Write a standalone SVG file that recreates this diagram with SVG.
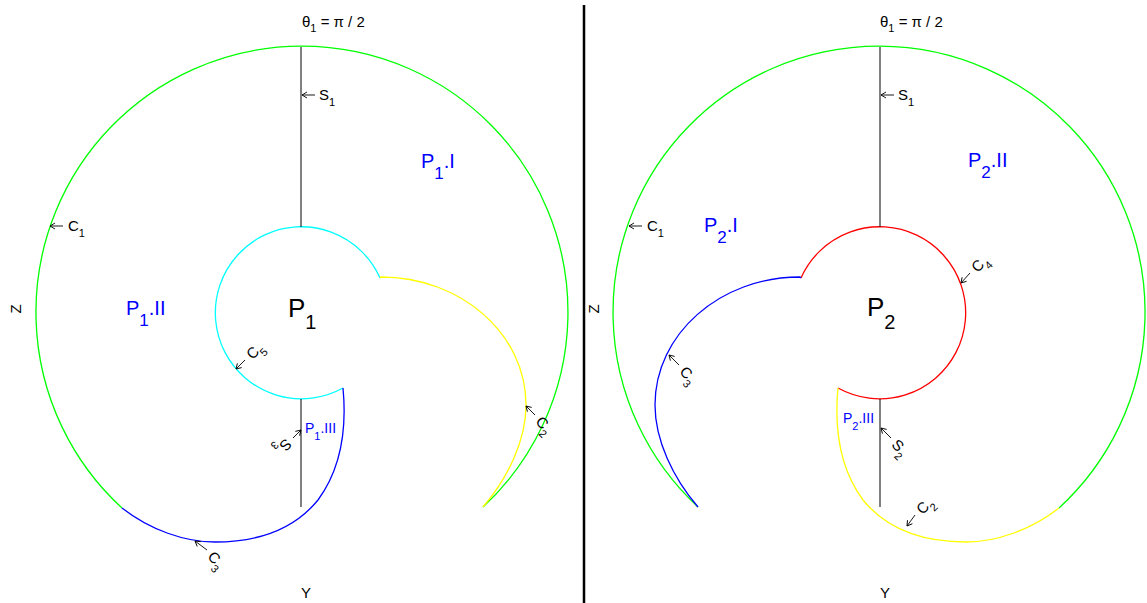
<svg xmlns="http://www.w3.org/2000/svg" width="1147" height="603" viewBox="0 0 1147 603">
<style>
text{font-family:"Liberation Sans",Arial,sans-serif;fill:#000}
.lbl{font-size:15px}
.sub{font-size:11px}
.big{font-size:26px}
.bigsub{font-size:20px}
.reg{fill:#0000ff;font-size:20px}
.regsub{font-size:17px}
.sreg{fill:#0000ff;font-size:14px}
.ssub{font-size:11px}
.c{fill:none;stroke-width:1.3}
.ax{stroke:#000;stroke-width:1;fill:none}
.arr{stroke:#000;stroke-width:0.9;fill:none;marker-end:url(#ah)}
</style>
<defs>
<marker id="ah" markerUnits="userSpaceOnUse" markerWidth="10" markerHeight="10" viewBox="-7 -5 10 10" refX="0" refY="0" orient="auto">
<path d="M-5,-3 L0,0 L-5,3" fill="none" stroke="#000" stroke-width="0.9"/>
</marker>
</defs>
<g id="connectors">
<line x1="584" y1="5" x2="584" y2="603" stroke="#000" stroke-width="2.5"/>
<!-- left panel -->
<path class="c" stroke="#00ff00" d="M483,507 A266,266 0 1 0 122,508"/>
<path class="c" stroke="#00ffff" d="M380,278 A86,86 0 1 0 343,388"/>
<path class="c" stroke="#ffff00" d="M380,278 L381,277 C461,277 526,334 526,405 C526,440 508,478 483,507"/>
<path class="c" stroke="#0000ff" d="M343,388 C347,430 340,470 318,500 C296,527 262,542 215,542 C185,542 150,530 122,508"/>
<line class="ax" x1="301" y1="47" x2="301" y2="227"/>
<line class="ax" x1="301" y1="399" x2="301" y2="507"/>
<!-- right panel -->
<path class="c" stroke="#00ff00" d="M698,507 A266,266 0 1 1 1059,508"/>
<path class="c" stroke="#ff0000" d="M801,278 A86,86 0 1 1 838,388"/>
<path class="c" stroke="#0000ff" d="M801,278 L800,277 C720,277 655,334 655,405 C655,440 673,478 698,507"/>
<path class="c" stroke="#ffff00" d="M838,388 C834,430 841,470 863,500 C885,527 919,542 966,542 C996,542 1031,530 1059,508"/>
<line class="ax" x1="880" y1="47" x2="880" y2="227"/>
<line class="ax" x1="880" y1="399" x2="880" y2="507"/>
<!-- arrows -->
<line class="arr" x1="315" y1="95" x2="302" y2="95"/>
<line class="arr" x1="63" y1="226" x2="50" y2="226"/>
<line class="arr" x1="245" y1="360" x2="236" y2="369"/>
<line class="arr" x1="293" y1="438" x2="301" y2="430"/>
<line class="arr" x1="207" y1="550" x2="195" y2="541"/>
<line class="arr" x1="535" y1="415" x2="526" y2="406"/>
<line class="arr" x1="894" y1="95" x2="881" y2="95"/>
<line class="arr" x1="642" y1="226" x2="629" y2="226"/>
<line class="arr" x1="970" y1="273" x2="961" y2="283"/>
<line class="arr" x1="679" y1="365" x2="669" y2="355"/>
<line class="arr" x1="891" y1="438" x2="881" y2="428"/>
<line class="arr" x1="915" y1="515" x2="907" y2="526"/>
</g>
<g id="left-panel-labels">
<text id="theta1" class="lbl" font-size="14" x="302" y="27">θ<tspan class="sub" font-size="10" dy="5">1</tspan><tspan dy="-5"> = π / 2</tspan></text>
<text id="Y1" class="lbl" x="306" y="598" text-anchor="middle">Y</text>
<text id="Z1" class="lbl" transform="translate(21,309) rotate(-90)" text-anchor="middle">Z</text>
<text id="S1a" class="lbl" x="319" y="100">S<tspan class="sub" dy="6">1</tspan></text>
<text id="C1a" class="lbl" x="68" y="231">C<tspan class="sub" dy="6">1</tspan></text>
<text id="C5" class="lbl" transform="translate(245,360) rotate(-45)" x="5" y="5.5">C<tspan class="sub" dy="6">5</tspan></text>
<text id="S3" class="lbl" transform="translate(293,438) rotate(135)" x="5" y="5.5">S<tspan class="sub" dy="6">3</tspan></text>
<text id="C3a" class="lbl" transform="translate(207,550) rotate(45)" x="5" y="5.5">C<tspan class="sub" dy="6">3</tspan></text>
<text id="C2a" class="lbl" transform="translate(535,415) rotate(45)" x="5" y="5.5">C<tspan class="sub" dy="6">2</tspan></text>
</g>
<g id="P1"><text class="big" x="288" y="317">P<tspan class="bigsub" dy="12">1</tspan></text></g>
<g id="P1.I"><text class="reg" x="421" y="168">P<tspan class="regsub" dy="11">1</tspan><tspan dy="-11">.I</tspan></text></g>
<g id="P1.II"><text class="reg" x="126" y="315">P<tspan class="regsub" dy="11">1</tspan><tspan dy="-11">.II</tspan></text></g>
<g id="P1.III"><text class="sreg" x="305" y="433">P<tspan class="ssub" dy="7">1</tspan><tspan dy="-7">.III</tspan></text></g>
<g id="right-panel-labels">
<text id="theta2" class="lbl" font-size="14" x="880" y="27">θ<tspan class="sub" font-size="10" dy="5">1</tspan><tspan dy="-5"> = π / 2</tspan></text>
<text id="Y2" class="lbl" x="885" y="598" text-anchor="middle">Y</text>
<text id="Z2" class="lbl" transform="translate(599,309) rotate(-90)" text-anchor="middle">Z</text>
<text id="S1b" class="lbl" x="898" y="100">S<tspan class="sub" dy="6">1</tspan></text>
<text id="C1b" class="lbl" x="647" y="231">C<tspan class="sub" dy="6">1</tspan></text>
<text id="C4" class="lbl" transform="translate(970,273) rotate(-45)" x="5" y="5.5">C<tspan class="sub" dy="6">4</tspan></text>
<text id="C3b" class="lbl" transform="translate(679,365) rotate(45)" x="5" y="5.5">C<tspan class="sub" dy="6">3</tspan></text>
<text id="S2" class="lbl" transform="translate(891,438) rotate(45)" x="5" y="5.5">S<tspan class="sub" dy="6">2</tspan></text>
<text id="C2b" class="lbl" transform="translate(915,515) rotate(-45)" x="5" y="5.5">C<tspan class="sub" dy="6">2</tspan></text>
</g>
<g id="P2"><text class="big" x="867" y="316">P<tspan class="bigsub" dy="13">2</tspan></text></g>
<g id="P2.I"><text class="reg" x="704" y="232">P<tspan class="regsub" dy="11">2</tspan><tspan dy="-11">.I</tspan></text></g>
<g id="P2.II"><text class="reg" x="968" y="167">P<tspan class="regsub" dy="11">2</tspan><tspan dy="-11">.II</tspan></text></g>
<g id="P2.III"><text class="sreg" x="843" y="423">P<tspan class="ssub" dy="7">2</tspan><tspan dy="-7">.III</tspan></text></g>
</svg>
